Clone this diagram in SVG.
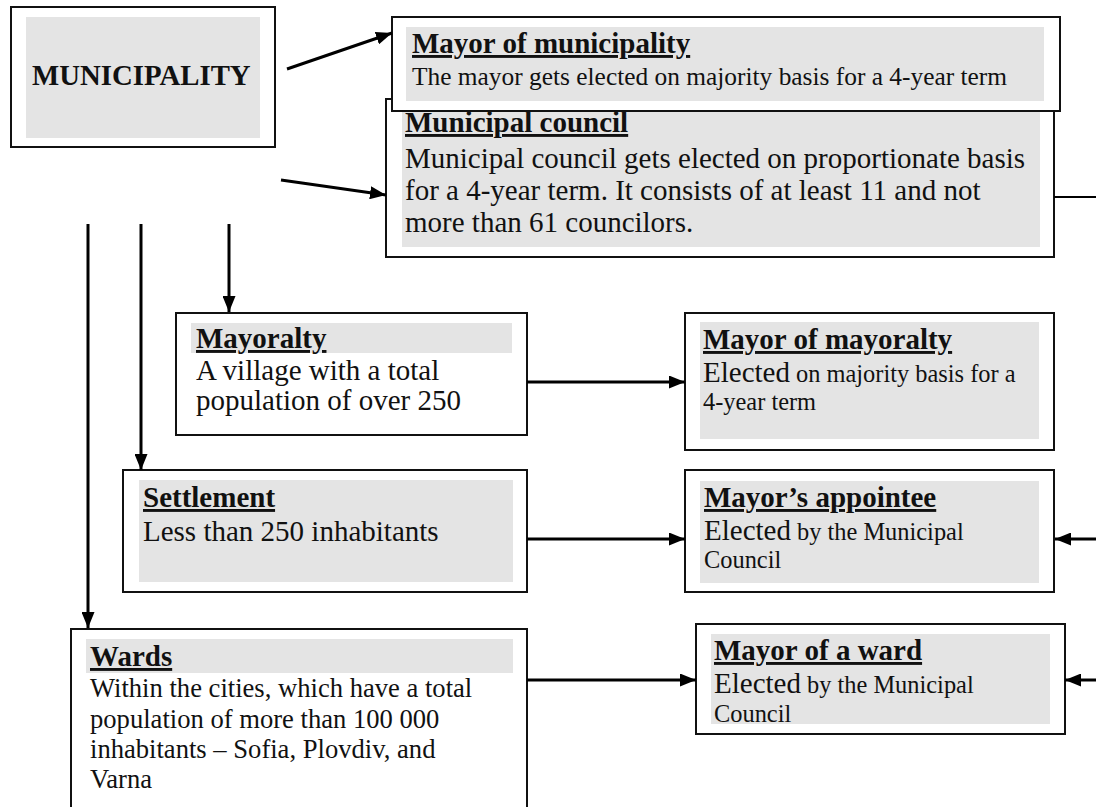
<svg xmlns="http://www.w3.org/2000/svg" width="1096" height="807" viewBox="0 0 1096 807">
<style>
text{font-family:"Liberation Serif","Times New Roman",serif;fill:#111}
.box{fill:#fff;stroke:#111;stroke-width:2}
.grey{fill:#e4e4e4}
.t{font-weight:bold;font-size:29px;text-decoration:underline;text-decoration-thickness:2.5px;text-underline-offset:4px}
.b29{font-size:29px}
.b27{font-size:26.6px}
.b24{font-size:24.4px}
.conn line{stroke:#000;stroke-width:3}
</style>
<defs>
<marker id="ah" viewBox="0 0 16 13" refX="16" refY="6.5" markerWidth="16" markerHeight="13" markerUnits="userSpaceOnUse" orient="auto">
<path d="M0,0 L16,6.5 L0,13 z" fill="#000"/>
</marker>
</defs>

<g id="municipality">
<rect class="box" x="11" y="7" width="264" height="140"/>
<rect class="grey" x="26" y="17" width="234" height="121"/>
<text x="32" y="85" style="font-weight:bold;font-size:28.8px">MUNICIPALITY</text>
</g>

<g id="municipal-council">
<rect class="box" x="386" y="99" width="668" height="158"/>
<rect class="grey" x="402" y="109" width="638" height="138"/>
<text x="405" y="132" class="t">Municipal council</text>
<text x="405" y="168" class="b29">Municipal council gets elected on proportionate basis</text>
<text x="405" y="200" class="b29">for a 4-year term. It consists of at least 11 and not</text>
<text x="405" y="232" class="b29">more than 61 councilors.</text>
</g>

<g id="mayor-municipality">
<rect class="box" x="392" y="17" width="668" height="94"/>
<rect class="grey" x="406" y="27" width="638" height="74"/>
<text x="412" y="53" class="t">Mayor of municipality</text>
<text x="412" y="85" style="font-size:25.4px">The mayor gets elected on majority basis for a 4-year term</text>
</g>

<g id="mayoralty">
<rect class="box" x="176" y="313" width="351" height="122"/>
<rect class="grey" x="191" y="323" width="321" height="30"/>
<text x="196" y="348" class="t">Mayoralty</text>
<text x="196" y="380" class="b29">A village with a total</text>
<text x="196" y="410" class="b29">population of over 250</text>
</g>

<g id="mayor-mayoralty">
<rect class="box" x="685" y="313" width="369" height="137"/>
<rect class="grey" x="700" y="322" width="339" height="117"/>
<text x="703" y="349" class="t">Mayor of mayoralty</text>
<text x="703" y="382"><tspan class="b29">Elected</tspan><tspan class="b24"> on majority basis for a</tspan></text>
<text x="703" y="410" class="b24">4-year term</text>
</g>

<g id="settlement">
<rect class="box" x="123" y="470" width="404" height="122"/>
<rect class="grey" x="139" y="480" width="374" height="102"/>
<text x="143" y="507" class="t">Settlement</text>
<text x="143" y="541" class="b29">Less than 250 inhabitants</text>
</g>

<g id="mayors-appointee">
<rect class="box" x="685" y="470" width="369" height="122"/>
<rect class="grey" x="700" y="481" width="339" height="102"/>
<text x="704" y="507" class="t">Mayor’s appointee</text>
<text x="704" y="540"><tspan class="b29">Elected</tspan><tspan class="b24"> by the Municipal</tspan></text>
<text x="704" y="568" class="b24">Council</text>
</g>

<g id="wards">
<rect class="box" x="71" y="629" width="456" height="220"/>
<rect class="grey" x="86" y="639" width="427" height="34"/>
<text x="90" y="666" class="t">Wards</text>
<text x="90" y="697" class="b27">Within the cities, which have a total</text>
<text x="90" y="728" class="b27">population of more than 100 000</text>
<text x="90" y="758" class="b27">inhabitants – Sofia, Plovdiv, and</text>
<text x="90" y="788" class="b27">Varna</text>
</g>

<g id="mayor-ward">
<rect class="box" x="696" y="624" width="369" height="110"/>
<rect class="grey" x="711" y="634" width="339" height="90"/>
<text x="714" y="660" class="t">Mayor of a ward</text>
<text x="714" y="693"><tspan class="b29">Elected</tspan><tspan class="b24"> by the Municipal</tspan></text>
<text x="714" y="722" class="b24">Council</text>
</g>

<g id="connectors" class="conn">
<line x1="287" y1="69" x2="392" y2="33" marker-end="url(#ah)"/>
<line x1="281" y1="180" x2="386" y2="195" marker-end="url(#ah)"/>
<line x1="88" y1="224" x2="88" y2="628" marker-end="url(#ah)"/>
<line x1="141" y1="224" x2="141" y2="470" marker-end="url(#ah)"/>
<line x1="229" y1="224" x2="229" y2="312" marker-end="url(#ah)"/>
<line x1="527" y1="382" x2="685" y2="382" marker-end="url(#ah)"/>
<line x1="527" y1="539" x2="685" y2="539" marker-end="url(#ah)"/>
<line x1="527" y1="680" x2="696" y2="680" marker-end="url(#ah)"/>
<line x1="1096" y1="539" x2="1055" y2="539" marker-end="url(#ah)"/>
<line x1="1096" y1="680" x2="1065" y2="680" marker-end="url(#ah)"/>
<line x1="1054" y1="197" x2="1096" y2="197" style="stroke-width:2"/>
</g>
</svg>
